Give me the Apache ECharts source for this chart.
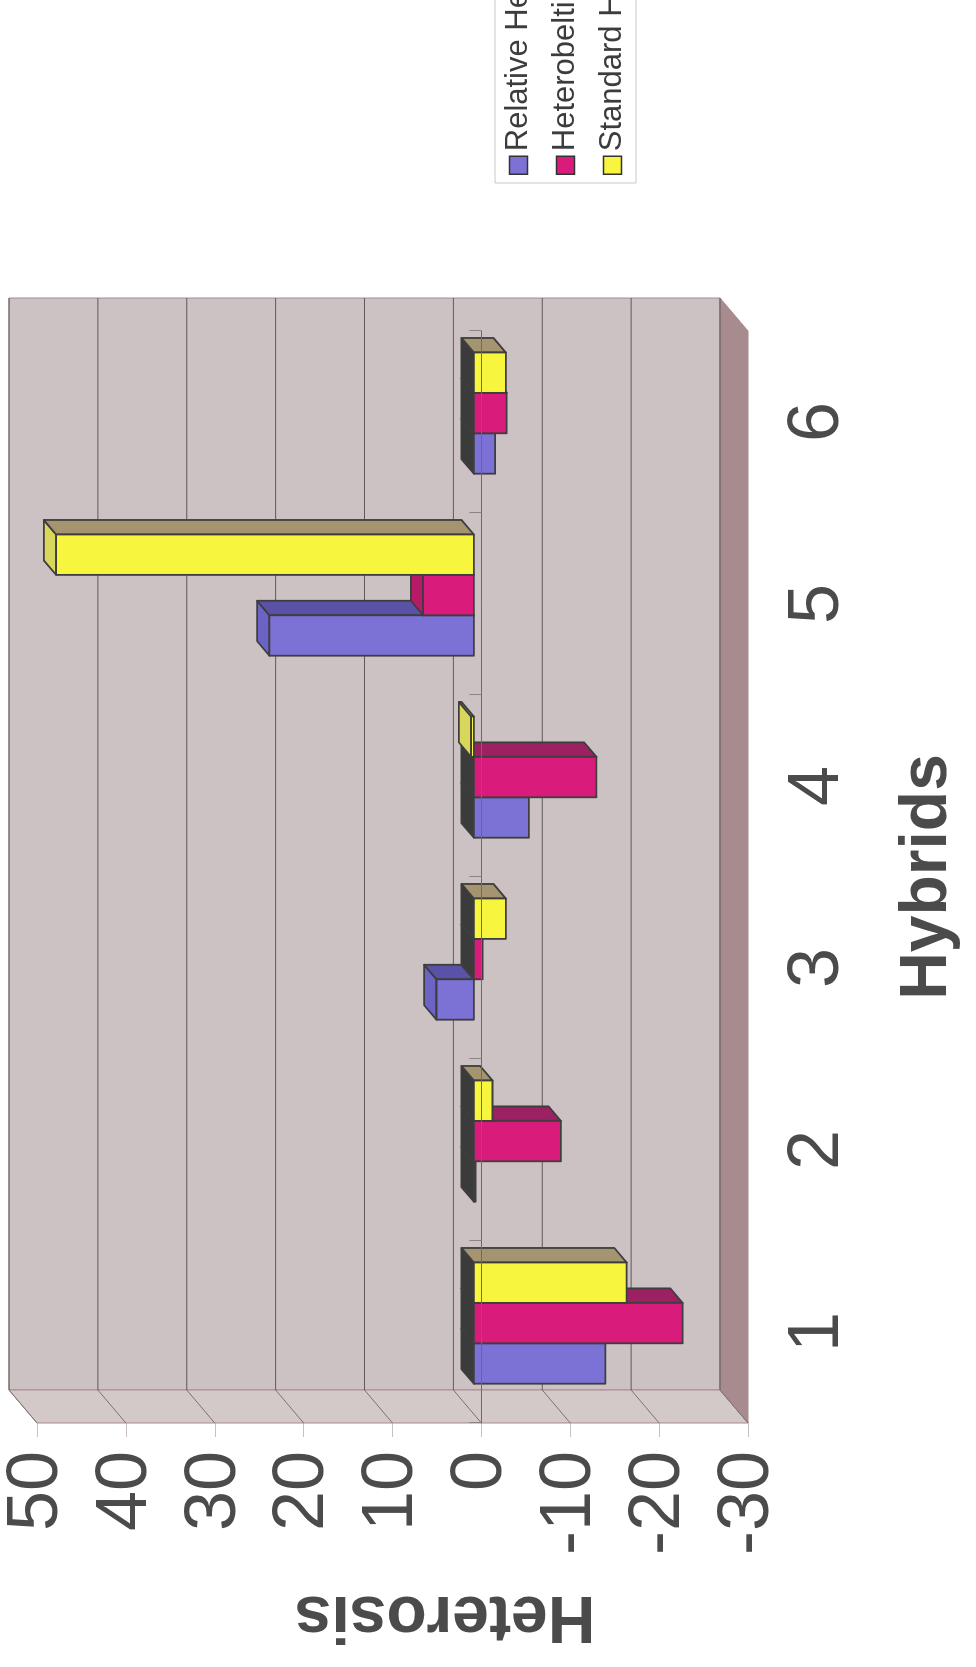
<!DOCTYPE html>
<html>
<head>
<meta charset="utf-8">
<script src="https://cdn.jsdelivr.net/npm/echarts@6/dist/echarts.min.js"></script>
<style>
  html, body { margin: 0; padding: 0; background: #fff; overflow: hidden; width: 976px; height: 1667px; }
  /* The chart is laid out landscape and turned a quarter turn for the printed page */
  #chart { position: absolute; left: 0; top: 0; width: 1667px; height: 976px;
           transform-origin: 0 0; transform: translateY(1667px) rotate(-90deg); }
</style>
</head>
<body>
<div id="chart"></div>
<script>
// ---- data ----
const hybrids = ['1', '2', '3', '4', '5', '6'];
const relativeHeterosis = [-14.8, -0.2, 4.2, -6.2, 23.0, -2.4];
const heterobeltiosis   = [-23.5, -9.8, -1.0, -13.8, 5.7, -3.7];
const standardHeterosis = [-17.2, -2.1, -3.6, 0.3, 47.0, -3.6];
const valueTicks = [50, 40, 30, 20, 10, 0, -10, -20, -30];
const seriesNames = ['Relative Heterosis', 'Heterobeltiosis', 'Standard Heterosis'];

// ---- 3-D look ----
const DX = 33, DY = -28;          // offset from front plane to back wall
const F_NEAR = 0.27, F_FAR = 0.71; // depth slice occupied by the bars
const BAR_FRAC = 0.222;            // bar width as share of a category band
const EDGE = '#3e3e3e';
const NEG_TOP = '#3b3b3b';
const FONT = '"Liberation Sans", Arial, sans-serif';
const TEXT = '#4b4b4b';

const palettes = [
  { front: '#7c72d6', top: '#6b63c6', side: '#5a52a6' },
  { front: '#d91c7c', top: '#b81a6a', side: '#9c2162' },
  { front: '#f8f53e', top: '#d9d65c', side: '#a4946f' }
];
const seriesValues = [relativeHeterosis, heterobeltiosis, standardHeterosis];

function barRenderer(k, pal) {
  return function (params, api) {
    const c = api.value(0), v = api.value(1);
    const base = api.coord([c, 0]);
    const tip = api.coord([c, v]);
    const w = api.size([1, 0])[0] * BAR_FRAC;
    const left = base[0] - 1.5 * w + k * w;
    const right = left + w;
    const yTop = Math.min(base[1], tip[1]);
    const yBot = Math.max(base[1], tip[1]);
    const fx = DX * F_NEAR, fy = DY * F_NEAR, bx = DX * F_FAR, by = DY * F_FAR;
    const st = (fill) => ({ fill: fill, stroke: EDGE, lineWidth: 1.8, lineJoin: 'round' });
    return {
      type: 'group',
      children: [
        { type: 'polygon', shape: { points: [[left + fx, yTop + fy], [right + fx, yTop + fy], [right + bx, yTop + by], [left + bx, yTop + by]] },
          style: st(v >= 0 ? pal.top : NEG_TOP) },
        { type: 'polygon', shape: { points: [[right + fx, yTop + fy], [right + bx, yTop + by], [right + bx, yBot + by], [right + fx, yBot + fy]] },
          style: st(pal.side) },
        { type: 'rect', shape: { x: left + fx, y: yTop + fy, width: w, height: Math.max(yBot - yTop, 0.5) },
          style: st(pal.front) }
      ]
    };
  };
}

// back wall, side wall and floor of the plot box
function renderWalls(params, api) {
  const cs = params.coordSys;
  const x0 = cs.x, y0 = cs.y, x1 = cs.x + cs.width, y1 = cs.y + cs.height;
  const edge = { stroke: '#a88a8c', lineWidth: 1 };
  return {
    type: 'group',
    children: [
      { type: 'rect', shape: { x: x0 + DX, y: y0 + DY, width: cs.width, height: cs.height },
        style: Object.assign({ fill: '#ccc2c3' }, edge) },
      { type: 'polygon', shape: { points: [[x0, y0], [x0 + DX, y0 + DY], [x0 + DX, y1 + DY], [x0, y1]] },
        style: Object.assign({ fill: '#d3c9c9' }, edge) },
      { type: 'polygon', shape: { points: [[x0, y1], [x1, y1], [x1 + DX, y1 + DY], [x0 + DX, y1 + DY]] },
        style: Object.assign({ fill: '#a78b8f' }, edge) }
    ]
  };
}

// value gridlines on the back wall, continued across the side wall
function renderGridlines(params, api) {
  const cs = params.coordSys;
  const p = api.coord([0, api.value(1)]);
  const y = p[1];
  const line = { stroke: '#5e5a5a', lineWidth: 1 };
  return {
    type: 'group',
    children: [
      { type: 'line', shape: { x1: cs.x + DX, y1: y + DY, x2: cs.x + cs.width + DX, y2: y + DY }, style: line },
      { type: 'line', shape: { x1: cs.x, y1: y, x2: cs.x + DX, y2: y + DY }, style: { stroke: '#7a7272', lineWidth: 1 } }
    ]
  };
}

const chart = echarts.init(document.getElementById('chart'), null, { renderer: 'canvas' });

const series = [
  { type: 'custom', name: '_walls', silent: true, z: 1, renderItem: renderWalls, data: [[0, 0]] },
  { type: 'custom', name: '_grid', silent: true, z: 1, renderItem: renderGridlines,
    data: valueTicks.map(v => [0, v]) }
];
seriesValues.forEach((vals, k) => {
  series.push({
    type: 'custom',
    name: seriesNames[k],
    z: 2,
    itemStyle: { color: palettes[k].front },
    renderItem: barRenderer(k, palettes[k]),
    encode: { x: 0, y: 1 },
    data: hybrids.map((h, i) => [i, vals[i]])
  });
});

chart.setOption({
  animation: false,
  backgroundColor: '#ffffff',
  grid: { left: 244, right: 331, top: 37, bottom: 228, containLabel: false },
  legend: {
    data: seriesNames,
    orient: 'vertical',
    left: 1484, top: 495,
    padding: [8, 8, 8, 8],
    itemGap: 16,
    itemWidth: 18, itemHeight: 18,
    icon: 'rect',
    backgroundColor: '#ffffff',
    borderColor: '#c8c8c8', borderWidth: 1,
    itemStyle: { borderColor: '#333', borderWidth: 1.5 },
    textStyle: { fontSize: 31, fontFamily: FONT, color: '#3c3c3c' }
  },
  xAxis: [
    {
      type: 'category', data: hybrids, position: 'bottom',
      axisLine: { show: false, onZero: false },
      axisTick: { show: false },
      axisLabel: { fontSize: 72, fontFamily: FONT, color: TEXT, margin: 34 },
      name: 'Hybrids', nameLocation: 'middle', nameGap: 147,
      nameTextStyle: { fontSize: 66, fontWeight: 'bold', fontFamily: FONT, color: TEXT },
      splitLine: { show: false }
    },
    {
      type: 'category', data: hybrids, z: 10,
      axisLine: { show: true, onZero: true, lineStyle: { color: '#6f6a6a', width: 1 } },
      axisTick: { show: true, length: 12, lineStyle: { color: '#8a8484', width: 1 } },
      axisLabel: { show: false },
      splitLine: { show: false }
    }
  ],
  yAxis: {
    type: 'value', min: -30, max: 50, interval: 10,
    axisLine: { show: true, lineStyle: { color: '#a68c8c', width: 1 } },
    axisTick: { show: true, length: 14, lineStyle: { color: '#c9c1c1', width: 1 } },
    axisLabel: { fontSize: 72, fontFamily: FONT, color: TEXT, margin: 28 },
    splitLine: { show: false }
  },
  graphic: [
    { type: 'text', x: 52, y: 445, rotation: Math.PI / 2,
      style: { text: 'Heterosis', fontSize: 66, fontWeight: 'bold', fontFamily: FONT, fill: TEXT,
               align: 'center', verticalAlign: 'middle' } }
  ],
  series: series
});
</script>
</body>
</html>
